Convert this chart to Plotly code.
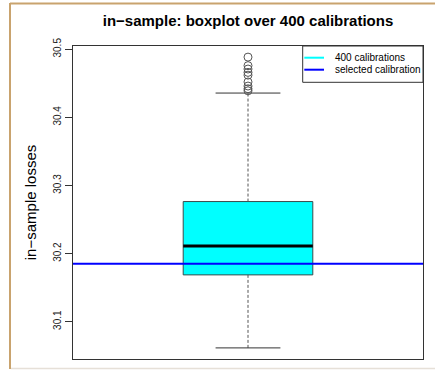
import plotly.graph_objects as go

# In-sample losses summarised over 400 calibrations
q1 = 30.1687
median = 30.2113
q3 = 30.2764
lower_whisker = 30.0615
upper_whisker = 30.4357
outliers = [30.4885, 30.476, 30.471, 30.466, 30.462, 30.452, 30.446, 30.442, 30.439]
selected_loss = 30.185

y_ticks = [30.1, 30.2, 30.3, 30.4, 30.5]
legend_labels = ["400 calibrations", "selected calibration"]
legend_colors = ["#00FFFF", "#0000FF"]

title_text = "in\u2212sample: boxplot over 400 calibrations"
ylab_text = "in\u2212sample losses"

# Figure geometry (pixels)
W, H = 435, 370
L, R, T, B = 73, 12, 46, 11
PW, PH = W - L - R, H - T - B

def px_x(px):
    return (px - L) / PW

def px_y(py):
    return (H - B - py) / PH

FONT = "Liberation Sans, Arial, sans-serif"
center, half_box, half_cap = 1.0, 0.2, 0.1

fig = go.Figure()

# box body
fig.add_trace(go.Scatter(
    x=[center - half_box, center + half_box, center + half_box, center - half_box, center - half_box],
    y=[q1, q1, q3, q3, q1],
    mode="lines", fill="toself", fillcolor=legend_colors[0],
    line=dict(color="#3c4a4a", width=1), hoverinfo="skip", showlegend=False))

# whiskers (dashed)
for a, b in [(q3, upper_whisker), (q1, lower_whisker)]:
    fig.add_trace(go.Scatter(x=[center, center], y=[a, b], mode="lines",
                             line=dict(color="#555555", width=1, dash="3px,2px"),
                             hoverinfo="skip", showlegend=False))

# whisker caps
for v in [upper_whisker, lower_whisker]:
    fig.add_trace(go.Scatter(x=[center - half_cap, center + half_cap], y=[v, v], mode="lines",
                             line=dict(color="#333333", width=1),
                             hoverinfo="skip", showlegend=False))

# median
fig.add_trace(go.Scatter(x=[center - half_box, center + half_box], y=[median, median], mode="lines",
                         line=dict(color="black", width=3), hoverinfo="skip", showlegend=False))

# outliers
fig.add_trace(go.Scatter(x=[center] * len(outliers), y=outliers, mode="markers",
                         marker=dict(symbol="circle-open", size=8, color="#555555", line=dict(width=1)),
                         showlegend=False))

shapes = [
    # selected calibration line
    dict(type="line", xref="paper", yref="y", x0=0, x1=1, y0=selected_loss, y1=selected_loss,
         line=dict(color=legend_colors[1], width=2), layer="above"),
    # legend frame
    dict(type="rect", xref="paper", yref="paper", x0=px_x(302.7), x1=1, y0=px_y(82.3), y1=1,
         line=dict(color="#333333", width=1), fillcolor="white", layer="above"),
    # page frame
    dict(type="line", xref="paper", yref="paper", x0=px_x(10), x1=px_x(435), y0=px_y(3.5), y1=px_y(3.5),
         line=dict(color="#c9a36e", width=2)),
    dict(type="line", xref="paper", yref="paper", x0=px_x(10), x1=px_x(10), y0=px_y(3), y1=px_y(369),
         line=dict(color="#c9a36e", width=2)),
    dict(type="line", xref="paper", yref="paper", x0=px_x(11), x1=px_x(435), y0=px_y(368.5), y1=px_y(368.5),
         line=dict(color="#e6e0d8", width=1.5)),
]

annotations = []
for i, (lab, col) in enumerate(zip(legend_labels, legend_colors)):
    ypx = 57.7 + 12 * i
    shapes.append(dict(type="line", xref="paper", yref="paper", x0=px_x(304.3), x1=px_x(324),
                       y0=px_y(ypx), y1=px_y(ypx), line=dict(color=col, width=2), layer="above"))
    annotations.append(dict(text=lab, xref="paper", yref="paper", x=px_x(332.5), y=px_y(ypx),
                            xanchor="left", yanchor="middle", showarrow=False,
                            font=dict(family=FONT, size=10, color="black")))

fig.update_layout(
    width=W, height=H,
    margin=dict(l=L, r=R, t=T, b=B),
    paper_bgcolor="white", plot_bgcolor="white",
    showlegend=False,
    font=dict(family=FONT, color="black"),
    title=dict(text="<b>" + title_text + "</b>", x=px_x(248), xref="paper", xanchor="center",
               y=(H - 21) / H, yref="container", yanchor="middle",
               font=dict(family=FONT, size=15, color="black")),
    xaxis=dict(range=[0.46, 1.54], showticklabels=False, ticks="", showgrid=False, zeroline=False,
               showline=True, mirror=True, linecolor="#333333", linewidth=1, fixedrange=True),
    yaxis=dict(range=[30.0452, 30.5048], tickvals=y_ticks, ticktext=[f"{v:.1f}" for v in y_ticks],
               tickangle=-90, ticks="outside", ticklen=7, tickcolor="#333333", tickwidth=1,
               tickfont=dict(family=FONT, size=10, color="#222222"),
               showgrid=False, zeroline=False, showline=True, mirror=True,
               linecolor="#333333", linewidth=1,
               title=dict(text=ylab_text, standoff=11, font=dict(family=FONT, size=15, color="black"))),
    shapes=shapes, annotations=annotations,
)

fig.write_html("out.html")
